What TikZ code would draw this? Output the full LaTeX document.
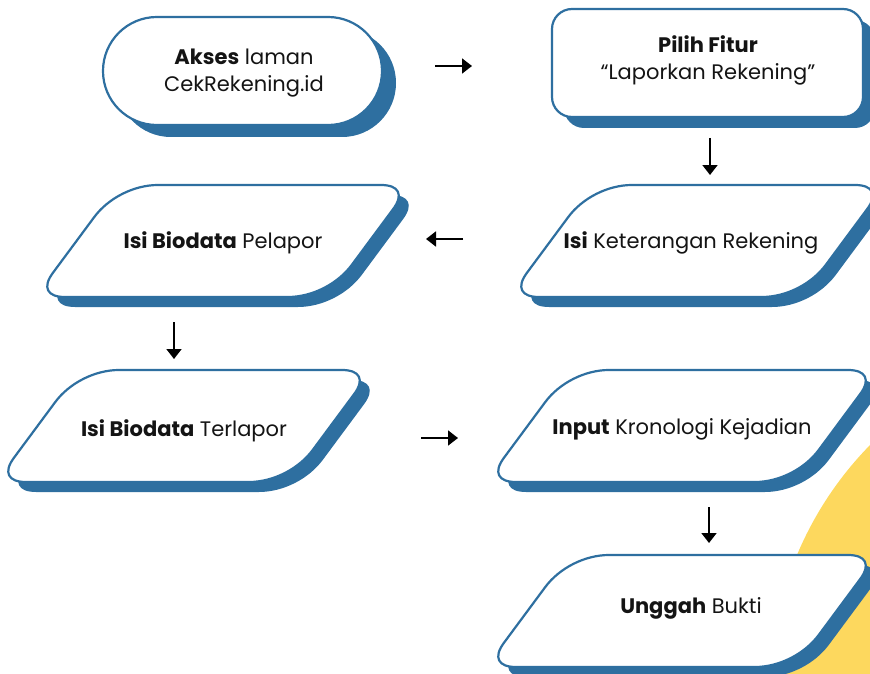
\documentclass[tikz,border=0pt]{standalone}
\usepackage{fontspec}
\setmainfont{Poppins}
\usetikzlibrary{calc,arrows.meta}

\definecolor{flowblue}{HTML}{2E6FA0}
\definecolor{sunyellow}{HTML}{FDD85E}
\definecolor{inkgray}{HTML}{141414}

\tikzset{
  shadowfill/.style={fill=flowblue},
  boxface/.style={fill=white, draw=flowblue, line width=2.2pt},
  label/.style={font=\fontsize{21}{24}\selectfont, text=inkgray, anchor=base, inner sep=0pt},
  flowarrow/.style={line width=1.8pt, -{Triangle[width=15pt,length=10pt]}}
}

% Slanted step box with soft corners:
% #1 style, #2 x of lower-left vertex, #3 bottom y, #4 edge width
\newcommand\slantshape[4]{%
  \coordinate (bl) at (#2,#3);
  \coordinate (tl) at (#2+83,#3-112);
  \coordinate (tr) at (#2+83+#4,#3-112);
  \coordinate (br) at (#2+#4,#3);
  \path[#1] ($(tl)!0.5!(tr)$)
    -- ($(tr)!30pt!(tl)$) .. controls ($(tr)!12pt!(tl)$) and ($(tr)!12pt!(br)$) .. ($(tr)!30pt!(br)$)
    -- ($(br)!40pt!(tr)$) .. controls ($(br)!16pt!(tr)$) and ($(br)!16pt!(bl)$) .. ($(br)!40pt!(bl)$)
    -- ($(bl)!30pt!(br)$) .. controls ($(bl)!12pt!(br)$) and ($(bl)!12pt!(tl)$) .. ($(bl)!30pt!(tl)$)
    -- ($(tl)!40pt!(bl)$) .. controls ($(tl)!16pt!(bl)$) and ($(tl)!16pt!(tr)$) .. ($(tl)!40pt!(tr)$)
    -- cycle;
}
% Shadow plus face of a slanted box
\newcommand\slantbox[3]{%
  \slantshape{shadowfill}{#1+10}{#2+10}{#3}
  \slantshape{boxface}{#1}{#2}{#3}
}

\begin{document}
\begin{tikzpicture}[x=1pt, y=-1pt]
  \useasboundingbox (0,0) rectangle (870,674);

  % backdrop disc
  \fill[sunyellow] (1120,690) circle (350pt);

  % start: pill shape
  \fill[flowblue, rounded corners=53.9pt] (117,29) rectangle (396,137);
  \draw[boxface, rounded corners=53.9pt] (103,17) rectangle (382,125);
  \node[label] (akses) at (244,65) {\textbf{Akses} laman};
  \node[label] (aksesurl) at (244,92) {CekRekening.id};

  % choose feature
  \fill[flowblue, rounded corners=20pt] (564,20) rectangle (875,128);
  \draw[boxface, rounded corners=20pt] (552,9) rectangle (863,117);
  \node[label] (pilih) at (708,53) {\textbf{Pilih Fitur}};
  \node[label] (pilihfitur) at (708,80) {“Laporkan Rekening”};

  % slanted steps
  \slantbox{35}{297}{293}
  \node[label] (pelapor) at (223,248) {\textbf{Isi Biodata} Pelapor};

  \slantbox{509}{297}{293}
  \node[label] (keterangan) at (691,248) {\textbf{Isi} Keterangan Rekening};

  \slantbox{-4}{482}{293}
  \node[label] (terlapor) at (184,436) {\textbf{Isi Biodata} Terlapor};

  \slantbox{486}{482}{309}
  \node[label] (kronologi) at (682,434) {\textbf{Input} Kronologi Kejadian};

  \slantbox{486}{667}{309}
  \node[label] (bukti) at (691,613) {\textbf{Unggah} Bukti};

  % arrow end points
  \coordinate (a1s) at (435,66);  \coordinate (a1e) at (472,66);
  \coordinate (a2s) at (710,138); \coordinate (a2e) at (710,175);
  \coordinate (a3s) at (463,239); \coordinate (a3e) at (426,239);
  \coordinate (a4s) at (174,322); \coordinate (a4e) at (174,359);
  \coordinate (a5s) at (421,438); \coordinate (a5e) at (458,438);
  \coordinate (a6s) at (709,507); \coordinate (a6e) at (709,543);

  \draw[flowarrow] (a1s) -- (a1e);
  \draw[flowarrow] (a2s) -- (a2e);
  \draw[flowarrow] (a3s) -- (a3e);
  \draw[flowarrow] (a4s) -- (a4e);
  \draw[flowarrow] (a5s) -- (a5e);
  \draw[flowarrow] (a6s) -- (a6e);
\end{tikzpicture}
\end{document}
